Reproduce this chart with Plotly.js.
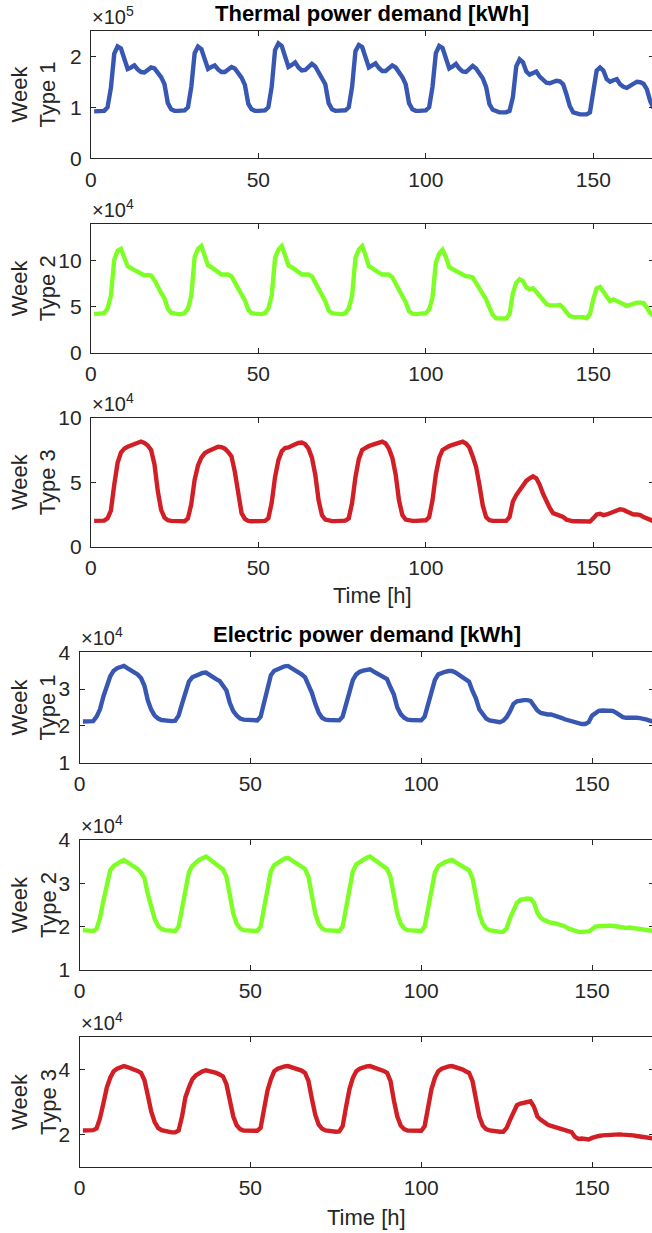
<!DOCTYPE html>
<html>
<head>
<meta charset="utf-8">
<script src="https://cdn.plot.ly/plotly-3.0.1.min.js"></script>
<style>
html, body { margin: 0; padding: 0; overflow: hidden; background: #fff; }
#chart { width: 700px; height: 1233px; }
</style>
</head>
<body>
<div id="chart"></div>
<script>
// Hourly values over one week (hours 1..168). Units are the scaled axis units shown in the chart.
// Thermal power demand, Week Type 1 [x1e5 kWh]
const thermalType1 = [
  0.92,0.92,0.92,0.93,1.00,1.38,2.05,2.19,2.15,1.95,1.75,1.78,1.82,1.74,1.69,1.68,1.73,1.78,1.76,1.67,1.59,1.45,1.08,0.96,
  0.93,0.93,0.93,0.94,1.00,1.40,2.06,2.19,2.14,1.94,1.75,1.79,1.82,1.74,1.69,1.69,1.74,1.79,1.76,1.67,1.58,1.44,1.07,0.96,
  0.93,0.93,0.93,0.94,1.00,1.40,2.12,2.25,2.20,1.98,1.79,1.83,1.88,1.78,1.72,1.73,1.79,1.85,1.80,1.69,1.60,1.45,1.08,0.96,
  0.93,0.93,0.93,0.94,1.00,1.40,2.10,2.22,2.18,1.96,1.78,1.82,1.86,1.77,1.71,1.71,1.77,1.82,1.78,1.68,1.59,1.45,1.08,0.96,
  0.93,0.93,0.93,0.94,1.00,1.40,2.06,2.20,2.16,1.95,1.76,1.80,1.85,1.76,1.70,1.69,1.75,1.81,1.76,1.66,1.57,1.40,1.06,0.95,
  0.92,0.90,0.90,0.90,0.93,1.20,1.80,1.94,1.88,1.70,1.64,1.68,1.70,1.60,1.54,1.48,1.47,1.50,1.52,1.51,1.45,1.25,1.02,0.90,
  0.87,0.86,0.86,0.86,0.90,1.28,1.72,1.78,1.72,1.55,1.50,1.53,1.55,1.45,1.40,1.38,1.42,1.47,1.50,1.49,1.46,1.35,1.12,0.98
];
// Thermal power demand, Week Type 2 [x1e4 kWh]
const thermalType2 = [
  4.2,4.2,4.2,4.3,4.8,6.2,10.1,11.1,11.3,10.4,9.4,9.2,9.0,8.8,8.5,8.4,8.45,8.4,7.9,7.1,6.5,5.9,4.8,4.35,
  4.25,4.2,4.2,4.3,4.8,6.2,10.4,11.3,11.6,10.6,9.5,9.3,9.0,8.7,8.5,8.5,8.5,8.3,7.7,7.0,6.4,5.7,4.7,4.3,
  4.25,4.2,4.2,4.3,4.8,6.2,10.3,11.2,11.6,10.6,9.5,9.3,9.0,8.7,8.5,8.5,8.5,8.3,7.6,7.0,6.4,5.6,4.6,4.3,
  4.25,4.2,4.2,4.3,4.8,6.2,10.3,11.2,11.6,10.6,9.4,9.2,8.9,8.7,8.5,8.5,8.5,8.2,7.5,6.9,6.3,5.5,4.5,4.25,
  4.2,4.2,4.2,4.3,4.7,6.0,9.8,10.8,11.2,10.4,9.3,9.1,8.9,8.6,8.4,8.3,8.3,8.2,7.6,7.0,6.4,5.8,4.9,4.1,
  3.75,3.7,3.7,3.72,4.2,6.5,7.6,8.0,7.8,7.1,6.9,7.0,6.6,6.1,5.7,5.3,5.15,5.1,5.15,5.2,4.9,4.4,4.0,3.9,
  3.9,3.85,3.85,3.75,4.2,5.8,7.0,7.15,6.6,6.0,5.6,5.8,5.6,5.4,5.2,5.1,5.2,5.35,5.45,5.45,5.4,4.9,4.3,4.0
];
// Thermal power demand, Week Type 3 [x1e4 kWh]
const thermalType3 = [
  2.0,2.0,2.0,2.02,2.2,2.8,4.8,6.5,7.3,7.6,7.75,7.85,7.97,8.1,8.15,8.05,7.85,7.5,6.4,4.3,2.85,2.25,2.05,2.0,
  1.98,1.97,1.97,1.98,2.2,3.3,5.2,6.3,6.9,7.25,7.4,7.5,7.6,7.75,7.72,7.6,7.35,7.0,5.8,4.0,2.6,2.15,2.0,1.97,
  1.97,1.97,1.98,2.0,2.2,3.4,5.4,6.7,7.4,7.65,7.7,7.85,7.95,8.05,8.08,7.95,7.6,6.9,5.6,3.6,2.45,2.1,2.0,1.98,
  1.98,2.0,2.0,2.02,2.2,3.4,5.4,6.8,7.5,7.7,7.8,7.9,8.0,8.12,8.15,8.0,7.6,6.9,5.6,3.6,2.45,2.1,2.02,2.0,
  2.0,2.0,2.02,2.05,2.3,3.6,5.6,6.9,7.5,7.7,7.8,7.9,8.0,8.1,8.15,8.0,7.7,7.0,6.2,4.8,3.2,2.3,2.05,2.0,
  1.98,1.98,1.98,2.0,2.3,3.5,4.0,4.4,4.8,5.1,5.3,5.45,5.3,4.8,4.1,3.5,3.0,2.6,2.5,2.45,2.3,2.1,2.0,1.97,
  1.97,1.97,2.0,1.98,1.95,2.2,2.5,2.55,2.45,2.5,2.6,2.7,2.85,2.9,2.85,2.72,2.6,2.5,2.5,2.45,2.3,2.2,2.05,1.98
];
// Electric power demand, Week Type 1 [x1e4 kWh]
const electricType1 = [
  2.12,2.12,2.12,2.13,2.25,2.45,2.80,3.10,3.35,3.50,3.57,3.60,3.63,3.57,3.52,3.46,3.40,3.30,3.09,2.69,2.44,2.28,2.20,2.16,
  2.14,2.13,2.13,2.14,2.28,2.60,2.95,3.20,3.32,3.37,3.41,3.44,3.45,3.38,3.31,3.27,3.22,3.10,2.96,2.62,2.40,2.28,2.20,2.17,
  2.16,2.15,2.15,2.15,2.25,2.65,3.10,3.38,3.50,3.55,3.59,3.62,3.63,3.57,3.52,3.48,3.40,3.32,3.10,2.90,2.60,2.36,2.22,2.17,
  2.16,2.15,2.15,2.15,2.25,2.62,2.95,3.25,3.40,3.47,3.50,3.53,3.54,3.48,3.42,3.37,3.32,3.27,3.05,2.85,2.50,2.32,2.22,2.17,
  2.16,2.15,2.15,2.15,2.25,2.60,2.95,3.25,3.40,3.45,3.47,3.49,3.49,3.45,3.38,3.33,3.27,3.20,2.95,2.75,2.45,2.32,2.20,2.15,
  2.13,2.12,2.10,2.14,2.24,2.40,2.60,2.67,2.70,2.70,2.70,2.68,2.55,2.42,2.35,2.32,2.31,2.31,2.29,2.26,2.22,2.18,2.15,2.12,
  2.11,2.08,2.05,2.05,2.10,2.28,2.36,2.41,2.42,2.42,2.42,2.41,2.36,2.29,2.24,2.22,2.22,2.24,2.22,2.21,2.20,2.17,2.14,2.12
];
// Electric power demand, Week Type 2 [x1e4 kWh]
const electricType2 = [
  1.92,1.91,1.90,1.90,1.95,2.20,2.60,2.95,3.30,3.40,3.46,3.50,3.54,3.49,3.44,3.38,3.33,3.25,3.12,2.75,2.45,2.18,2.02,1.95,
  1.92,1.91,1.90,1.90,2.00,2.45,2.90,3.25,3.40,3.48,3.54,3.58,3.62,3.56,3.50,3.44,3.38,3.32,3.15,2.70,2.30,2.07,1.96,1.92,
  1.91,1.90,1.90,1.90,2.00,2.45,2.95,3.28,3.42,3.48,3.53,3.57,3.59,3.54,3.48,3.42,3.37,3.33,3.15,2.70,2.30,2.07,1.96,1.92,
  1.91,1.90,1.90,1.90,2.00,2.45,2.95,3.28,3.44,3.50,3.55,3.59,3.62,3.56,3.50,3.44,3.38,3.33,3.15,2.70,2.30,2.07,1.96,1.92,
  1.91,1.90,1.90,1.90,2.00,2.45,2.90,3.25,3.40,3.45,3.49,3.52,3.54,3.49,3.44,3.38,3.34,3.30,3.12,2.70,2.30,2.07,1.96,1.92,
  1.90,1.89,1.88,1.88,1.96,2.20,2.40,2.55,2.62,2.64,2.65,2.64,2.55,2.32,2.20,2.15,2.11,2.09,2.08,2.06,2.04,2.01,1.96,1.93,
  1.90,1.88,1.88,1.88,1.89,1.94,2.00,2.01,2.02,2.02,2.02,2.02,2.01,1.99,1.97,1.97,1.98,1.97,1.95,1.94,1.93,1.92,1.91,1.90
];
// Electric power demand, Week Type 3 [x1e4 kWh]
const electricType3 = [
  2.12,2.12,2.12,2.13,2.18,2.50,2.96,3.45,3.75,3.95,4.03,4.08,4.11,4.08,4.05,4.01,3.96,3.90,3.68,3.20,2.70,2.38,2.20,2.13,
  2.10,2.08,2.06,2.06,2.12,2.55,3.15,3.45,3.70,3.82,3.90,3.95,3.98,3.96,3.93,3.90,3.85,3.79,3.55,3.05,2.55,2.28,2.16,2.12,
  2.11,2.11,2.11,2.11,2.20,2.80,3.35,3.70,3.95,4.03,4.07,4.10,4.11,4.08,4.05,4.02,3.97,3.90,3.65,3.10,2.60,2.30,2.17,2.12,
  2.10,2.09,2.08,2.09,2.25,2.85,3.40,3.75,3.95,4.03,4.07,4.10,4.11,4.08,4.05,4.01,3.96,3.90,3.65,3.05,2.55,2.27,2.16,2.12,
  2.11,2.11,2.11,2.11,2.25,2.85,3.40,3.75,3.95,4.03,4.07,4.10,4.11,4.08,4.05,4.01,3.95,3.90,3.65,3.05,2.55,2.27,2.16,2.12,
  2.10,2.09,2.08,2.08,2.20,2.45,2.72,2.90,2.95,2.97,2.99,3.02,2.85,2.55,2.45,2.36,2.30,2.26,2.23,2.21,2.19,2.16,2.12,2.07,
  1.92,1.86,1.87,1.85,1.84,1.89,1.93,1.95,1.97,1.98,1.99,2.00,2.00,2.00,1.99,1.99,1.98,1.97,1.95,1.94,1.92,1.90,1.88,1.87
];
const hours = Array.from({length: 168}, (_, i) => i + 1);

const panelLabels = ["Week<br>Type 1", "Week<br>Type 2", "Week<br>Type 3", "Week<br>Type 1", "Week<br>Type 2", "Week<br>Type 3"];
const exponentLabels = ["\u00d710<sup>5</sup>", "\u00d710<sup>4</sup>", "\u00d710<sup>4</sup>", "\u00d710<sup>4</sup>", "\u00d710<sup>4</sup>", "\u00d710<sup>4</sup>"];
const sectionTitles = ["Thermal power demand [kWh]", "Electric power demand [kWh]"];
const xTitle = "Time [h]";

// ---- presentation ----
const W = 700, H = 1233;
const seriesList = [thermalType1, thermalType2, thermalType3, electricType1, electricType2, electricType3];
const colors = ["#3757b3", "#7dff26", "#d11f25", "#3757b3", "#7dff26", "#d11f25"];
const yRanges = [[0, 2.5], [0, 14], [0, 10], [1, 4], [1, 4], [1, 5]];
const yDticks = [1, 5, 5, 1, 1, 2];
// pixel boxes: [left, right, top, bottom]
const boxes = [
  [90.8, 653.6, 30.7, 158.3],
  [90.8, 653.6, 224.0, 352.7],
  [90.8, 653.6, 417.7, 546.7],
  [79.5, 653.6, 652.3, 762.7],
  [79.5, 653.6, 840.0, 970.0],
  [79.5, 653.6, 1037.3, 1166.7]
];
const FONT = "'Liberation Sans', Arial, Helvetica, sans-serif";
const AX = "#262626";
const TICK_SIZE = 21;

const traces = [];
const layout = {
  width: W, height: H,
  margin: {l: 0, r: 0, t: 0, b: 0},
  paper_bgcolor: "#fff", plot_bgcolor: "#fff",
  showlegend: false,
  font: {family: FONT, size: TICK_SIZE, color: AX},
  annotations: []
};

seriesList.forEach((s, i) => {
  const n = i + 1;
  const b = boxes[i];
  traces.push({
    x: hours, y: s, type: "scatter", mode: "lines",
    xaxis: "x" + (n === 1 ? "" : n), yaxis: "y" + (n === 1 ? "" : n),
    line: {color: colors[i], width: 4.4, shape: "linear"},
    hoverinfo: "skip"
  });
  const xa = {
    domain: [b[0] / W, b[1] / W],
    range: [0, 168], tickmode: "linear", tick0: 0, dtick: 50,
    showgrid: false, zeroline: false,
    showline: true, linecolor: AX, linewidth: 1, mirror: "ticks",
    ticks: "inside", ticklen: 5, tickcolor: AX, tickwidth: 1,
    tickfont: {family: FONT, size: TICK_SIZE, color: AX},
    ticklabelstandoff: 2,
    anchor: "y" + (n === 1 ? "" : n)
  };
  const ya = {
    domain: [1 - b[3] / H, 1 - b[2] / H],
    range: yRanges[i], tickmode: "linear", tick0: 0, dtick: yDticks[i],
    showgrid: false, zeroline: false,
    showline: true, linecolor: AX, linewidth: 1, mirror: "ticks",
    ticks: "inside", ticklen: 5, tickcolor: AX, tickwidth: 1,
    tickfont: {family: FONT, size: TICK_SIZE, color: AX},
    ticklabelstandoff: 4,
    anchor: "x" + (n === 1 ? "" : n)
  };
  layout["xaxis" + (n === 1 ? "" : n)] = xa;
  layout["yaxis" + (n === 1 ? "" : n)] = ya;

  // y-axis label
  layout.annotations.push({
    text: panelLabels[i], textangle: -90,
    xref: "paper", yref: "paper",
    x: 34 / W, y: 1 - ((b[2] + b[3]) / 2) / H,
    xanchor: "center", yanchor: "middle",
    showarrow: false, font: {family: FONT, size: 22, color: AX}
  });
  // exponent label
  layout.annotations.push({
    text: exponentLabels[i],
    xref: "paper", yref: "paper",
    x: (b[0] - 1) / W, y: 1 - (b[2] - 1) / H,
    xanchor: "left", yanchor: "bottom",
    showarrow: false, font: {family: FONT, size: 20, color: AX}
  });
});

// section titles
[[0, 14], [3, 634]].forEach(([bi, py], k) => {
  const b = boxes[bi];
  layout.annotations.push({
    text: "<b>" + sectionTitles[k] + "</b>",
    xref: "paper", yref: "paper",
    x: ((b[0] + b[1]) / 2) / W, y: 1 - py / H,
    xanchor: "center", yanchor: "middle",
    showarrow: false, font: {family: FONT, size: 22, color: "#000"}
  });
});
// x-axis titles
[[2, 595], [5, 1217]].forEach(([bi, py]) => {
  const b = boxes[bi];
  layout.annotations.push({
    text: xTitle,
    xref: "paper", yref: "paper",
    x: ((b[0] + b[1]) / 2) / W, y: 1 - py / H,
    xanchor: "center", yanchor: "middle",
    showarrow: false, font: {family: FONT, size: 22, color: AX}
  });
});

Plotly.newPlot("chart", traces, layout, {staticPlot: true, displayModeBar: false});
</script>
</body>
</html>
